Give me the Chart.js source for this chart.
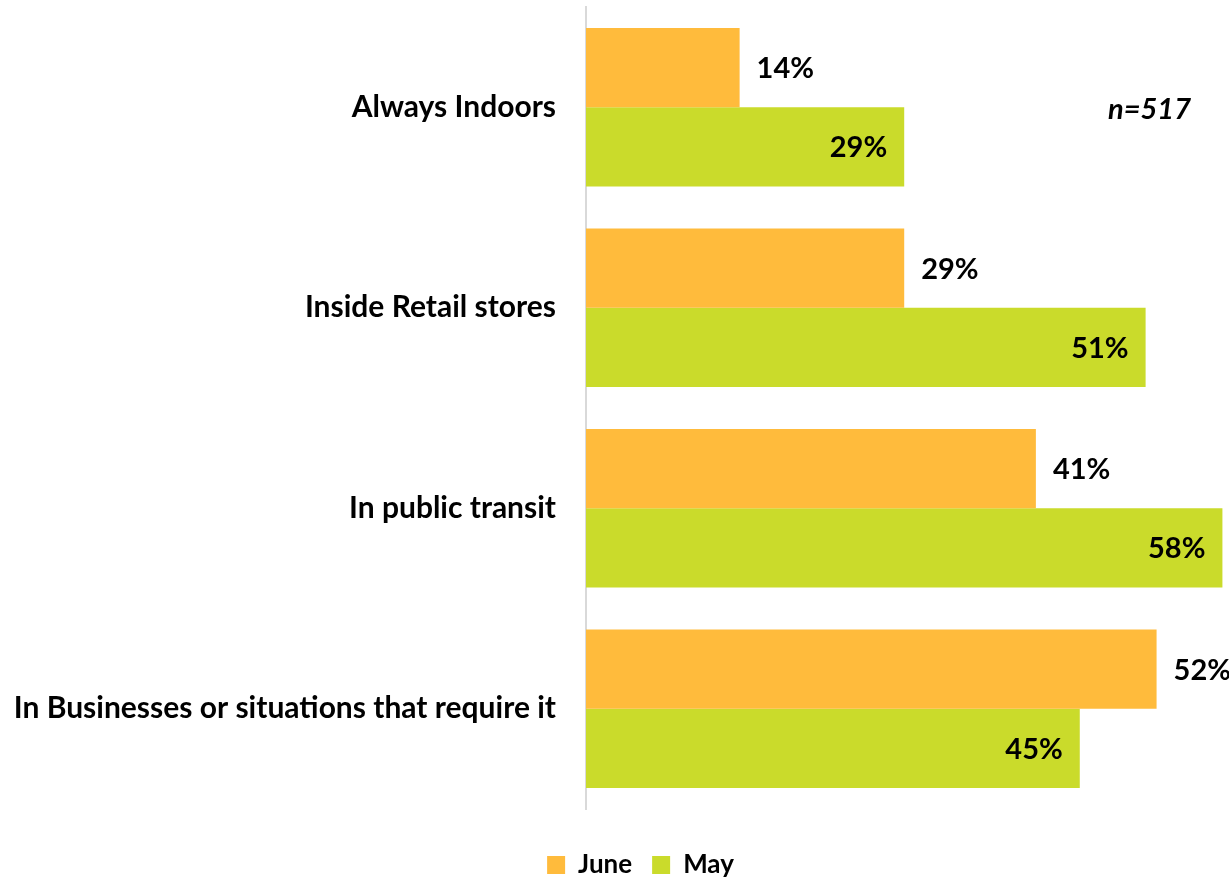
<!DOCTYPE html>
<html>
<head>
<meta charset="utf-8">
<script src="https://cdn.jsdelivr.net/npm/chart.js@4.4.1/dist/chart.umd.min.js"></script>
<style>
  html, body { margin: 0; padding: 0; background: #ffffff; }
  #wrap { width: 1229px; height: 878px; position: relative; }
</style>
</head>
<body>
<div id="wrap"><canvas id="chart"></canvas></div>
<script>
// Where people report wearing a mask, June vs May survey waves
const categories = [
  'Always Indoors',
  'Inside Retail stores',
  'In public transit',
  'In Businesses or situations that require it'
];
const juneValues = [14, 29, 41, 52];
const mayValues = [29, 51, 58, 45];
const seriesNames = ['June', 'May'];
const sampleNote = 'n=517';

const FONT = 'Lato';
const juneColor = '#FFBB3C';
const mayColor = '#CADB2B';

// Percentage labels: outside the bar end for June, inside for May
const valueLabels = {
  id: 'valueLabels',
  afterLayout(chart) {
    // drop the legend row a little and centre it under the whole figure
    const lg = chart.legend;
    if (lg) {
      lg.top += 23;
      lg.bottom += 23;
      lg.left += 52;
    }
  },
  afterDatasetsDraw(chart) {
    const ctx = chart.ctx;
    ctx.save();
    ctx.font = 'bold 29px ' + FONT;
    ctx.fillStyle = '#000000';
    ctx.textBaseline = 'middle';
    chart.data.datasets.forEach((ds, di) => {
      const meta = chart.getDatasetMeta(di);
      meta.data.forEach((bar, i) => {
        const txt = ds.data[i] + '%';
        if (di === 0) {
          ctx.textAlign = 'left';
          ctx.fillText(txt, bar.x + 17, bar.y + 1);
        } else {
          ctx.textAlign = 'right';
          ctx.fillText(txt, bar.x - 17, bar.y + 1);
        }
      });
    });
    // sample size note
    const a = chart.chartArea;
    ctx.font = 'italic bold 29px ' + FONT;
    ctx.textAlign = 'left';
    ctx.fillText(sampleNote, a.right - 121, a.top + 103);
    ctx.restore();
  }
};

const ctx = document.getElementById('chart').getContext('2d');
new Chart(ctx, {
  type: 'bar',
  data: {
    labels: categories,
    datasets: [
      { label: seriesNames[0], data: juneValues, backgroundColor: juneColor, borderWidth: 0 },
      { label: seriesNames[1], data: mayValues, backgroundColor: mayColor, borderWidth: 0 }
    ]
  },
  options: {
    indexAxis: 'y',
    responsive: true,
    maintainAspectRatio: false,
    animation: false,
    categoryPercentage: 0.79,
    barPercentage: 1.0,
    layout: { padding: { top: 7, left: 0, right: 0, bottom: 13 } },
    scales: {
      x: {
        display: false,
        min: 0,
        max: 58.6
      },
      y: {
        grid: { display: false },
        border: { display: true, color: '#d9d9d9', width: 2 },
        ticks: {
          color: '#000000',
          padding: 22,
          font: { family: FONT, size: 30, weight: 'bold', lineHeight: 0.4 }
        },
        afterFit(scale) {
          scale.width = 586;
          scale.paddingTop = 0;
          scale.paddingBottom = 0;
        }
      }
    },
    plugins: {
      legend: {
        position: 'bottom',
        labels: {
          boxWidth: 18,
          boxHeight: 18,
          padding: 20,
          color: '#000000',
          font: { family: FONT, size: 26, weight: 'bold' }
        }
      },
      tooltip: { enabled: false }
    }
  },
  plugins: [valueLabels]
});
</script>
</body>
</html>
